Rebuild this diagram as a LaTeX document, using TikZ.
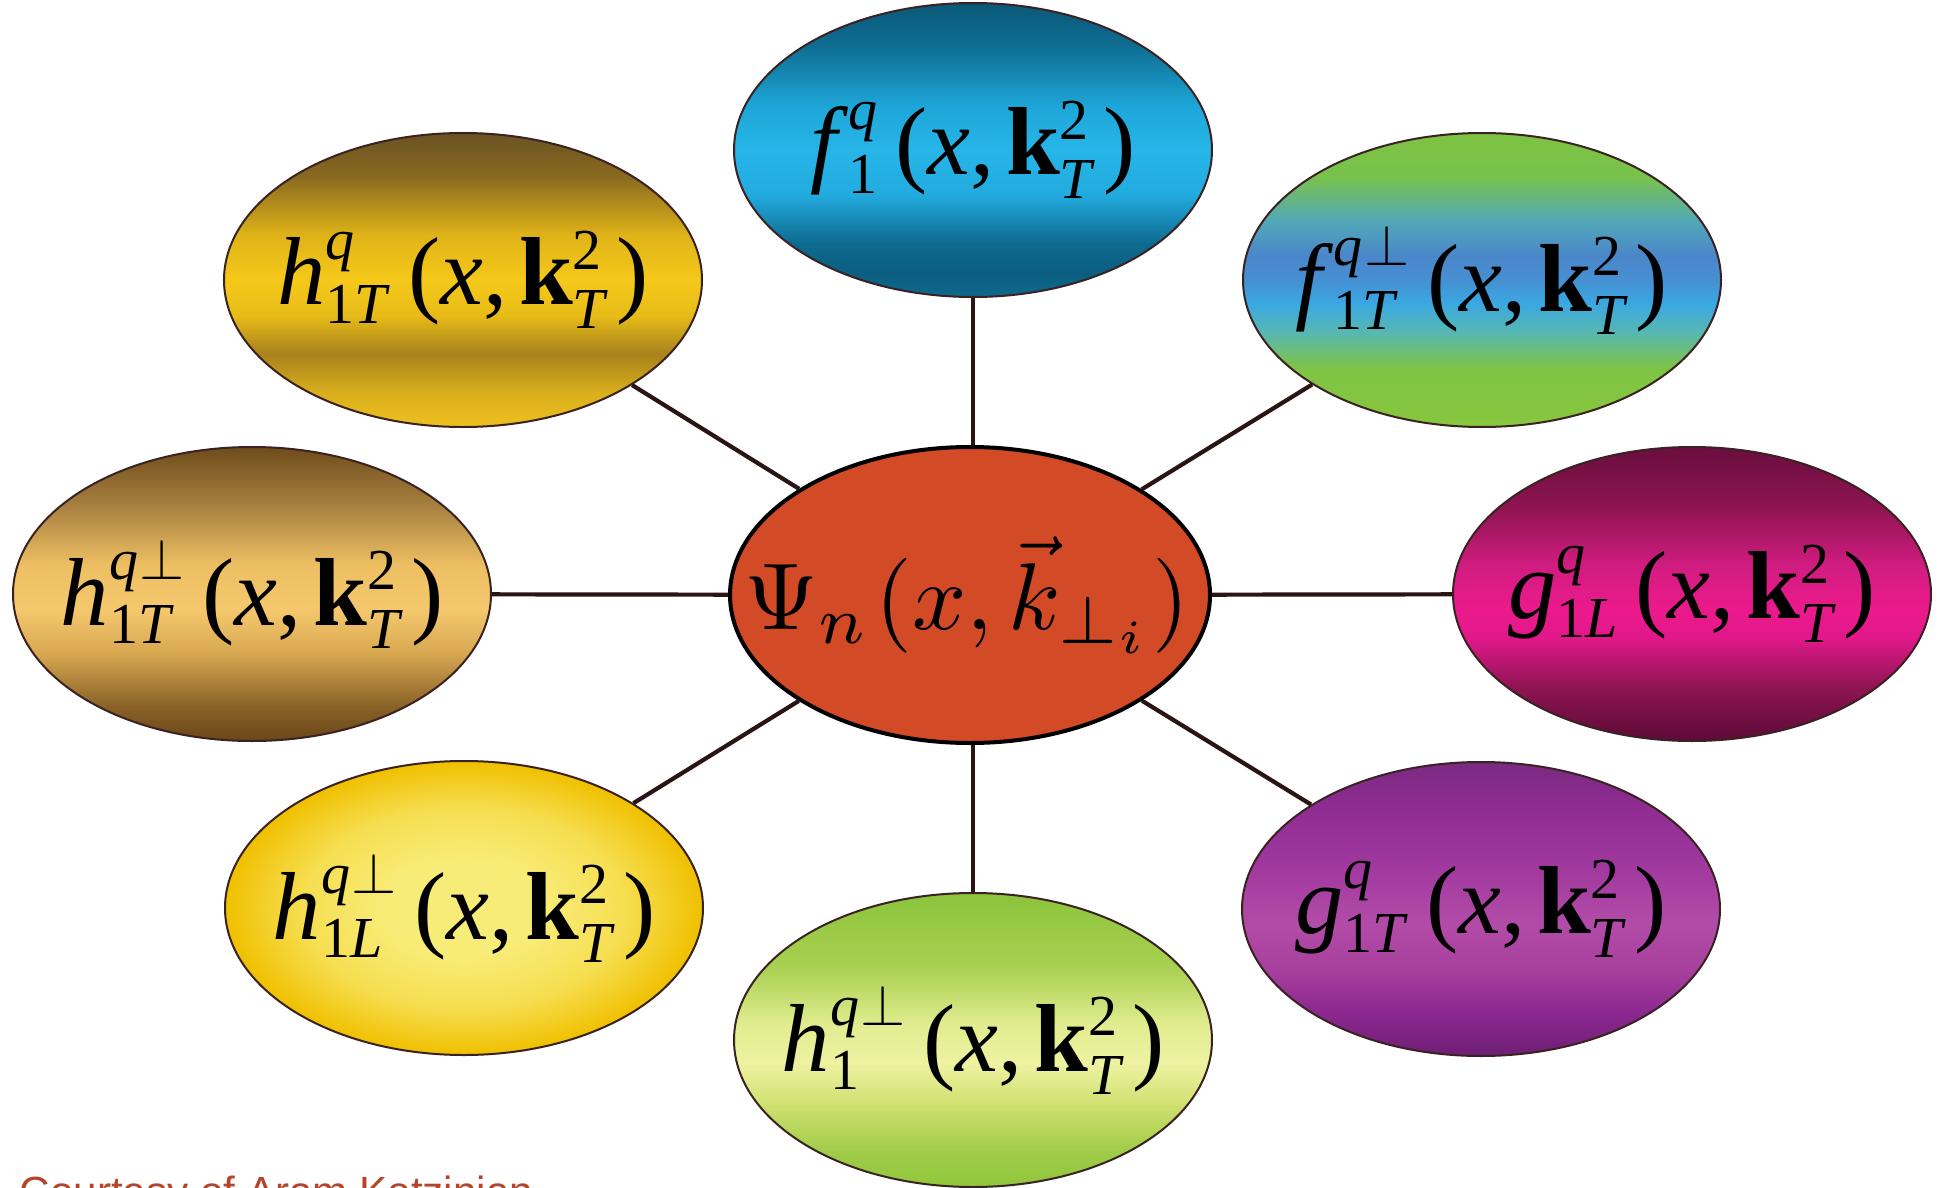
\RequirePackage{fix-cm}
\documentclass[tikz,border=0pt]{standalone}
\usepackage{amsmath}
\usepackage{graphicx}
\usepackage[no-math]{fontspec}
\setmainfont{Liberation Serif}
\newfontfamily\courtesyfont{Liberation Sans}
\usetikzlibrary{shapes.geometric}
\DeclareMathSizes{27.5}{27.5}{16.5}{12}

\definecolor{lineclr}{HTML}{2A1414}
\definecolor{ellborder}{HTML}{3A2222}
\definecolor{hubfill}{HTML}{D34A26}
\definecolor{credclr}{HTML}{B5452A}

% f1 cyan
\definecolor{fa0}{HTML}{0B5878}\definecolor{fa1}{HTML}{0E6E92}\definecolor{fa2}{HTML}{1EA6D8}
\definecolor{fa3}{HTML}{27B5E8}\definecolor{fa4}{HTML}{22ABDF}\definecolor{fa5}{HTML}{0D6A8E}
\definecolor{fa6}{HTML}{0B5E80}\definecolor{fa7}{HTML}{0E6A8E}
\pgfdeclareverticalshading{shFa}{100bp}{color(0bp)=(fa7); color(25bp)=(fa7); color(29bp)=(fa6); color(34bp)=(fa5);
 color(42.5bp)=(fa4); color(50bp)=(fa3); color(57.5bp)=(fa2); color(67.5bp)=(fa1); color(75bp)=(fa0); color(100bp)=(fa0)}
% f1T green-blue
\definecolor{fb0}{HTML}{7DC242}\definecolor{fb1}{HTML}{78C24C}\definecolor{fb2}{HTML}{52A8B8}
\definecolor{fb3}{HTML}{4A86CA}\definecolor{fb4}{HTML}{4690D2}\definecolor{fb5}{HTML}{3AA8E2}
\definecolor{fb6}{HTML}{58B8B0}\definecolor{fb7}{HTML}{7EC444}\definecolor{fb8}{HTML}{88C63E}
\pgfdeclareverticalshading{shFb}{100bp}{color(0bp)=(fb8); color(25bp)=(fb8); color(35bp)=(fb7); color(41bp)=(fb6);
 color(46bp)=(fb5); color(50bp)=(fb4); color(54bp)=(fb3); color(60bp)=(fb2); color(67.5bp)=(fb1); color(75bp)=(fb0); color(100bp)=(fb0)}
% h1T golden
\definecolor{ha0}{HTML}{6A5222}\definecolor{ha1}{HTML}{8A6A20}\definecolor{ha2}{HTML}{E0B418}
\definecolor{ha3}{HTML}{F5C81A}\definecolor{ha4}{HTML}{E8BC18}\definecolor{ha5}{HTML}{A8821C}
\definecolor{ha6}{HTML}{D8AE1C}\definecolor{ha7}{HTML}{EEC020}
\pgfdeclareverticalshading{shHa}{100bp}{color(0bp)=(ha7); color(25bp)=(ha7); color(31bp)=(ha6); color(37.5bp)=(ha5);
 color(44bp)=(ha4); color(50bp)=(ha3); color(57.5bp)=(ha2); color(67.5bp)=(ha1); color(75bp)=(ha0); color(100bp)=(ha0)}
% h1T perp tan
\definecolor{hb0}{HTML}{6E4C1A}\definecolor{hb1}{HTML}{A88040}\definecolor{hb2}{HTML}{EDBF62}
\definecolor{hb3}{HTML}{F5C86E}\definecolor{hb4}{HTML}{D8A850}\definecolor{hb5}{HTML}{8A6228}
\definecolor{hb6}{HTML}{6A4618}
\pgfdeclareverticalshading{shHb}{100bp}{color(0bp)=(hb6); color(25bp)=(hb6); color(31bp)=(hb5); color(40bp)=(hb4);
 color(47.5bp)=(hb3); color(55bp)=(hb2); color(65bp)=(hb1); color(75bp)=(hb0); color(100bp)=(hb0)}
% g1L magenta
\definecolor{ga0}{HTML}{6A0E3E}\definecolor{ga1}{HTML}{8C1450}\definecolor{ga2}{HTML}{D01C80}
\definecolor{ga3}{HTML}{EC1A8C}\definecolor{ga4}{HTML}{E0188A}\definecolor{ga5}{HTML}{8E1452}
\definecolor{ga6}{HTML}{5C0A36}
\pgfdeclareverticalshading{shGa}{100bp}{color(0bp)=(ga6); color(25bp)=(ga6); color(34bp)=(ga5); color(42.5bp)=(ga4);
 color(47.5bp)=(ga3); color(55bp)=(ga2); color(65bp)=(ga1); color(75bp)=(ga0); color(100bp)=(ga0)}
% g1T purple
\definecolor{gb0}{HTML}{7A2A80}\definecolor{gb1}{HTML}{8E2C92}\definecolor{gb2}{HTML}{A0389E}
\definecolor{gb3}{HTML}{B24CA8}\definecolor{gb4}{HTML}{A8409E}\definecolor{gb5}{HTML}{8C2890}
\definecolor{gb6}{HTML}{6E1E74}
\pgfdeclareverticalshading{shGb}{100bp}{color(0bp)=(gb6); color(25bp)=(gb6); color(32.5bp)=(gb5); color(40bp)=(gb4);
 color(47.5bp)=(gb3); color(57.5bp)=(gb2); color(67.5bp)=(gb1); color(75bp)=(gb0); color(100bp)=(gb0)}
% h1L yellow radial
\definecolor{hc0}{HTML}{F8EC78}\definecolor{hc1}{HTML}{F6DE50}\definecolor{hc2}{HTML}{F0C000}
\pgfdeclareradialshading{shHc}{\pgfpoint{0bp}{0bp}}{color(0bp)=(hc0); color(8bp)=(hc0); color(17bp)=(hc1); color(25bp)=(hc2); color(50bp)=(hc2)}
% h1 green pale
\definecolor{hd0}{HTML}{8CC43C}\definecolor{hd1}{HTML}{A8D050}\definecolor{hd2}{HTML}{E2EC90}
\definecolor{hd3}{HTML}{EEF2A2}\definecolor{hd4}{HTML}{D0E070}\definecolor{hd5}{HTML}{A0CC48}
\definecolor{hd6}{HTML}{90C63C}
\pgfdeclareverticalshading{shHd}{100bp}{color(0bp)=(hd6); color(25bp)=(hd6); color(31bp)=(hd5); color(39bp)=(hd4);
 color(46bp)=(hd3); color(52.5bp)=(hd2); color(62.5bp)=(hd1); color(75bp)=(hd0); color(100bp)=(hd0)}

\newcommand\tmdlabel[3]{\makebox[0pt]{\fontsize{27.5}{33}\selectfont\textit{#1}$^{\text{\itshape #2}}_{\text{#3}}$\,(\textit{x},\kern0.12em\textbf{k}$^{\text{2}}_{\text{\itshape T}}$\kern0.1em)}}
\newcommand\qperp{q\kern0.03em$\perp$}

\tikzset{
  pdfnode/.style={ellipse, draw=ellborder, line width=0.2mm, shade, minimum width=47.8mm, minimum height=29.4mm, inner sep=0pt},
  hubnode/.style={ellipse, draw=black, line width=0.4mm, fill=hubfill, minimum width=48mm, minimum height=29.6mm, inner sep=0pt},
  link/.style={draw=lineclr, line width=0.42mm}
}

\begin{document}
\begin{tikzpicture}[x=0.1mm, y=-0.1mm]
\useasboundingbox (0,0) rectangle (1940,1188);
\clip (0,0) rectangle (1940,1188);
\fill[white] (0,0) rectangle (1940,1188);

\node[hubnode] (psi) at (970,595) {\makebox[0pt]{\kern-0.6mm\fontsize{10}{12}\selectfont\scalebox{2.7}{$\Psi_n\mkern1mu(x,\vec{k}_{\perp_i})$}}};

\node[pdfnode, shading=shFa] (f1) at (973,150) {\tmdlabel{f}{q}{1}};
\node[pdfnode, shading=shFb] (f1T) at (1482,280) {\tmdlabel{f}{\qperp}{1\textit{T}}};
\node[pdfnode, shading=shHa] (h1T) at (463,280) {\tmdlabel{h}{q}{1\textit{T}}};
\node[pdfnode, shading=shHb] (h1Tp) at (252,594) {\tmdlabel{h}{\qperp}{1\textit{T}}};
\node[pdfnode, shading=shGa] (g1L) at (1692,594) {\tmdlabel{g}{q}{1\textit{L}}};
\node[pdfnode, shading=shGb] (g1T) at (1481,909) {\tmdlabel{g}{q}{1\textit{T}}};
\node[pdfnode, shading=shHc] (h1L) at (464,908) {\tmdlabel{h}{\qperp}{1\textit{L}}};
\node[pdfnode, shading=shHd] (h1) at (973,1040) {\tmdlabel{h}{\qperp}{1}};

\draw[link] (f1) -- (f1 |- psi.north);
\draw[link] (h1) -- (h1 |- psi.south);
\draw[link] (psi) -- (h1T);
\draw[link] (psi) -- (f1T);
\draw[link] (psi) -- (h1Tp);
\draw[link] (psi) -- (g1L);
\draw[link] (psi) -- (h1L);
\draw[link] (psi) -- (g1T);

\node[anchor=base west, inner sep=0pt, text=credclr, font=\courtesyfont\fontsize{12}{14}\selectfont] (credit) at (19,1206) {Courtesy of Aram Kotzinian};
\end{tikzpicture}
\end{document}
